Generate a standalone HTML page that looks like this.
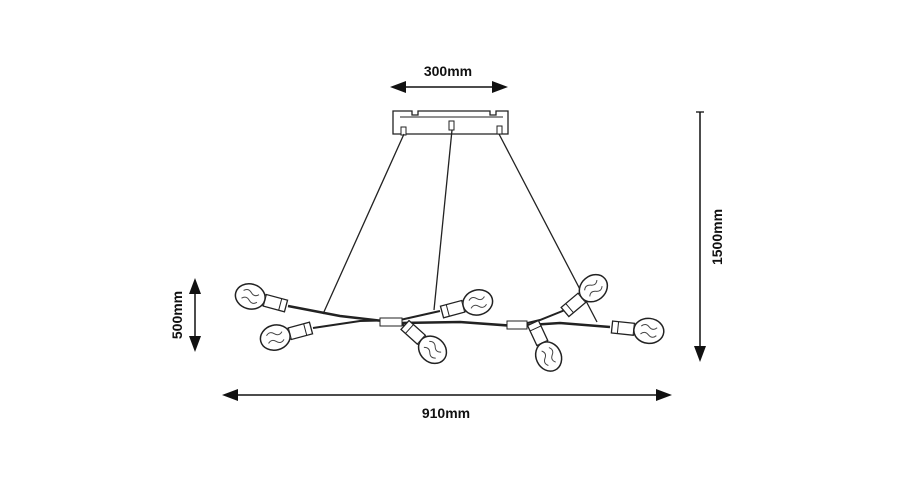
<!DOCTYPE html>
<html><head><meta charset="utf-8"><style>
html,body{margin:0;padding:0;background:#fff;}
svg{display:block;}
text{font-family:"Liberation Sans",sans-serif;font-weight:bold;font-size:14px;fill:#111;}
</style></head><body>
<svg width="900" height="500" viewBox="0 0 900 500" xmlns="http://www.w3.org/2000/svg">
<defs>
<g id="bulb">
  <rect x="0" y="-6" width="22" height="12" fill="#fff" stroke="#222" stroke-width="1.3"/>
  <line x1="6" y1="-6" x2="6" y2="6" stroke="#222"/>
  <path d="M22,-5 L25,-6 L25,6 L22,5" fill="#fff" stroke="#222"/>
  <ellipse cx="37" cy="0" rx="15" ry="12.5" fill="#fff" stroke="#222" stroke-width="1.5"/>
  <path d="M29,-4 q4,-4 8,0 q4,4 8,0 M29,4 q4,-4 8,0 q4,4 8,0" fill="none" stroke="#444" stroke-width="1"/>
</g>
</defs>
<!-- 300mm -->
<text x="448" y="76" text-anchor="middle">300mm</text>
<line x1="400" y1="87" x2="498" y2="87" stroke="#111" stroke-width="1.5"/>
<polygon points="390,87 406,81 406,93" fill="#111"/>
<polygon points="508,87 492,81 492,93" fill="#111"/>
<!-- canopy -->
<path d="M393,111 L412,111 L412,115 L418,115 L418,111 L490,111 L490,115 L496,115 L496,111 L508,111 L508,134 L393,134 Z" fill="#fff" stroke="#222" stroke-width="1.3"/>
<line x1="400" y1="117" x2="503" y2="117" stroke="#222" stroke-width="1"/>
<rect x="401" y="127" width="5" height="8" fill="#fff" stroke="#222"/>
<rect x="449" y="121" width="5" height="9" fill="#fff" stroke="#222"/>
<rect x="497" y="126" width="5" height="8" fill="#fff" stroke="#222"/>
<!-- wires -->
<line x1="404" y1="134" x2="323" y2="314" stroke="#222" stroke-width="1.3"/>
<line x1="452" y1="130" x2="434" y2="310" stroke="#222" stroke-width="1.3"/>
<line x1="499" y1="134" x2="597" y2="322" stroke="#222" stroke-width="1.3"/>
<!-- arms -->
<polyline points="288,306 340,316 400,323 460,322 515,326 560,323 610,327" fill="none" stroke="#222" stroke-width="2.5"/>
<polyline points="313,328 360,321 400,320 440,311" fill="none" stroke="#222" stroke-width="2"/>
<polyline points="515,326 540,320 565,310" fill="none" stroke="#222" stroke-width="2"/>
<line x1="400" y1="323" x2="408" y2="328" stroke="#222" stroke-width="2"/>
<line x1="515" y1="326" x2="533" y2="325" stroke="#222" stroke-width="2"/>
<rect x="380" y="318" width="22" height="8" fill="#fff" stroke="#222"/>
<rect x="507" y="321" width="20" height="8" fill="#fff" stroke="#222"/>
<!-- bulbs -->
<use href="#bulb" transform="translate(286,306) rotate(195)"/>
<use href="#bulb" transform="translate(311,328) rotate(165)"/>
<use href="#bulb" transform="translate(405,325) rotate(42)"/>
<use href="#bulb" transform="translate(442,312) rotate(-15)"/>
<use href="#bulb" transform="translate(533,323) rotate(65)"/>
<use href="#bulb" transform="translate(565,312) rotate(-40)"/>
<use href="#bulb" transform="translate(612,327) rotate(6)"/>
<!-- 1500mm -->
<line x1="696" y1="112" x2="704" y2="112" stroke="#111" stroke-width="1.3"/>
<line x1="700" y1="112" x2="700" y2="350" stroke="#111" stroke-width="1.5"/>
<polygon points="700,362 694,346 706,346" fill="#111"/>
<text x="0" y="0" text-anchor="middle" transform="translate(722,237) rotate(-90)">1500mm</text>
<!-- 500mm -->
<line x1="195" y1="288" x2="195" y2="342" stroke="#111" stroke-width="1.5"/>
<polygon points="195,278 189,294 201,294" fill="#111"/>
<polygon points="195,352 189,336 201,336" fill="#111"/>
<text x="0" y="0" text-anchor="middle" transform="translate(182,315) rotate(-90)">500mm</text>
<!-- 910mm -->
<line x1="232" y1="395" x2="662" y2="395" stroke="#111" stroke-width="1.5"/>
<polygon points="222,395 238,389 238,401" fill="#111"/>
<polygon points="672,395 656,389 656,401" fill="#111"/>
<text x="446" y="418" text-anchor="middle">910mm</text>
</svg>
</body></html>
